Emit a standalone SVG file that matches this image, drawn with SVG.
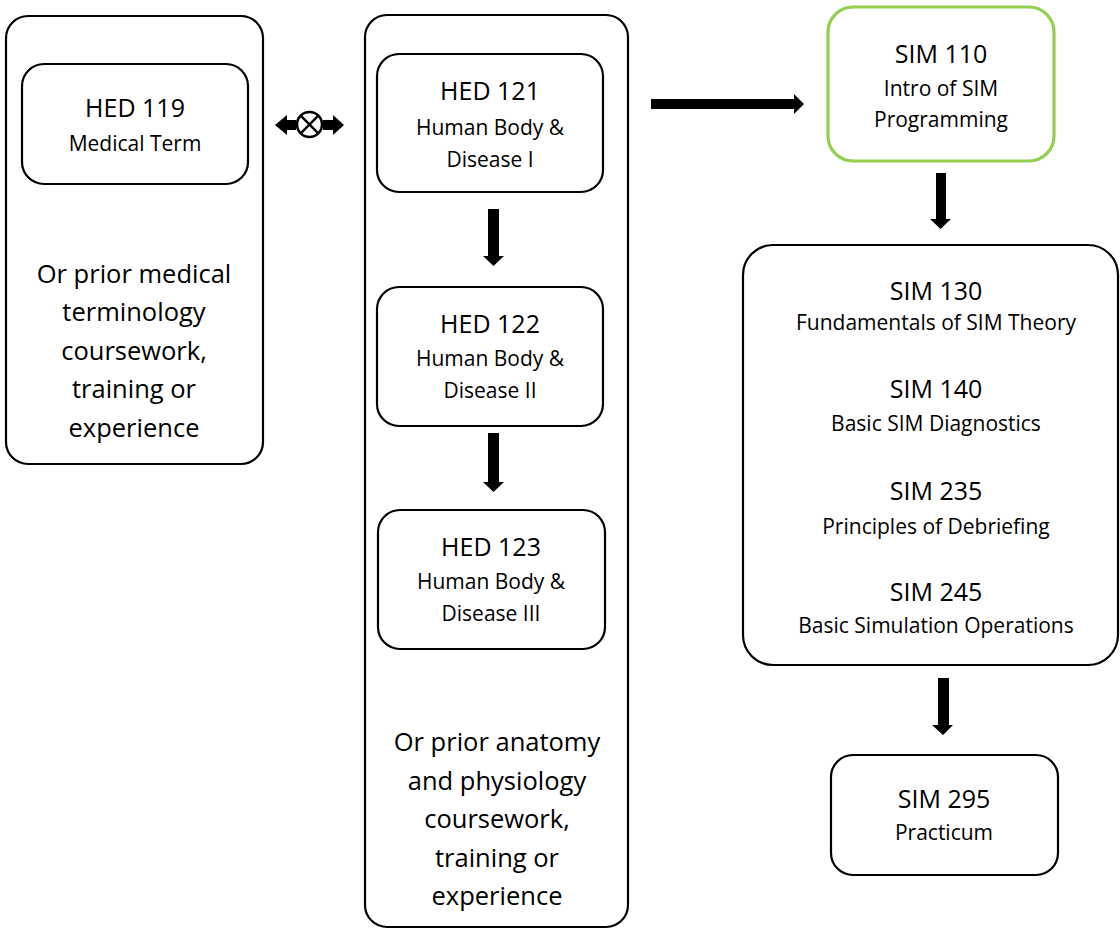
<svg xmlns="http://www.w3.org/2000/svg" width="1120" height="930" viewBox="0 0 1120 930">
<style>
.box{fill:#fff;stroke:#000;stroke-width:2.2}
.green{fill:#fff;stroke:#92d050;stroke-width:3.2}
text{font-family:"Open Sans",Lato,"Liberation Sans",sans-serif;fill:#000;text-anchor:middle}
.t{font-size:25px}
.b{font-size:25.5px}
.s{font-size:21px}
.arr{fill:#000;stroke:none}
</style>
<rect width="1120" height="930" fill="#fff"/>
<g id="left-group">
<rect class="box" x="6" y="16" width="257" height="448" rx="22"/>
<text class="b" x="134" y="283">Or prior medical</text>
<text class="b" x="134" y="321">terminology</text>
<text class="b" x="134" y="360">coursework,</text>
<text class="b" x="134" y="398">training or</text>
<text class="b" x="134" y="437">experience</text>
</g>
<g id="hed119">
<rect class="box" x="22" y="64" width="226" height="120" rx="22"/>
<text class="t" x="135" y="117">HED 119</text>
<text class="s" x="135" y="151">Medical Term</text>
</g>
<g id="middle-group">
<rect class="box" x="365" y="15" width="263" height="912" rx="22"/>
<text class="b" x="497" y="751">Or prior anatomy</text>
<text class="b" x="497" y="790">and physiology</text>
<text class="b" x="497" y="828">coursework,</text>
<text class="b" x="497" y="867">training or</text>
<text class="b" x="497" y="905">experience</text>
</g>
<g id="hed121">
<rect class="box" x="377" y="54" width="226" height="138" rx="22"/>
<text class="t" x="490" y="100">HED 121</text>
<text class="s" x="490" y="135">Human Body &amp;</text>
<text class="s" x="490" y="167">Disease I</text>
</g>
<g id="hed122">
<rect class="box" x="377" y="287" width="226" height="139" rx="22"/>
<text class="t" x="490" y="333">HED 122</text>
<text class="s" x="490" y="366">Human Body &amp;</text>
<text class="s" x="490" y="398">Disease II</text>
</g>
<g id="hed123">
<rect class="box" x="378" y="510" width="227" height="139" rx="22"/>
<text class="t" x="491" y="556">HED 123</text>
<text class="s" x="491" y="589">Human Body &amp;</text>
<text class="s" x="491" y="621">Disease III</text>
</g>
<g id="sim110">
<rect class="green" x="828" y="7" width="226" height="154" rx="25"/>
<text class="t" x="941" y="63">SIM 110</text>
<text class="s" x="941" y="96">Intro of SIM</text>
<text class="s" x="941" y="127">Programming</text>
</g>
<g id="sim-core">
<rect class="box" x="743" y="245" width="375" height="420" rx="30"/>
<text class="t" x="936" y="300">SIM 130</text>
<text class="s" x="936" y="330">Fundamentals of SIM Theory</text>
<text class="t" x="936" y="398">SIM 140</text>
<text class="s" x="936" y="431">Basic SIM Diagnostics</text>
<text class="t" x="936" y="500">SIM 235</text>
<text class="s" x="936" y="534">Principles of Debriefing</text>
<text class="t" x="936" y="601">SIM 245</text>
<text class="s" x="936" y="633">Basic Simulation Operations</text>
</g>
<g id="sim295">
<rect class="box" x="831" y="755" width="227" height="120" rx="22"/>
<text class="t" x="944" y="808">SIM 295</text>
<text class="s" x="944" y="840">Practicum</text>
</g>
<g id="connectors">
<polygon class="arr" points="287,120 296,120 296,130 287,130 287,135 275,125 287,115"/>
<polygon class="arr" points="323,120 333,120 333,115 344,125 333,135 333,130 323,130"/>
<circle cx="309.5" cy="124.5" r="12.5" fill="#fff" stroke="#000" stroke-width="2.6"/>
<line x1="300.7" y1="115.7" x2="318.3" y2="133.3" stroke="#000" stroke-width="2.4"/>
<line x1="318.3" y1="115.7" x2="300.7" y2="133.3" stroke="#000" stroke-width="2.4"/>
<polygon class="arr" points="488,209 499,209 499,256 504,256 493.5,266 483,256 488,256"/>
<polygon class="arr" points="488,433 499,433 499,482 504,482 493.5,492 483,482 488,482"/>
<polygon class="arr" points="651,99 794,99 794,94 804,104 794,114 794,109 651,109"/>
<polygon class="arr" points="936,173 946,173 946,219 951,219 940.5,229 930,219 936,219"/>
<polygon class="arr" points="938,678 949,678 949,725 953,725 943,735 932,725 938,725"/>
</g>
</svg>
